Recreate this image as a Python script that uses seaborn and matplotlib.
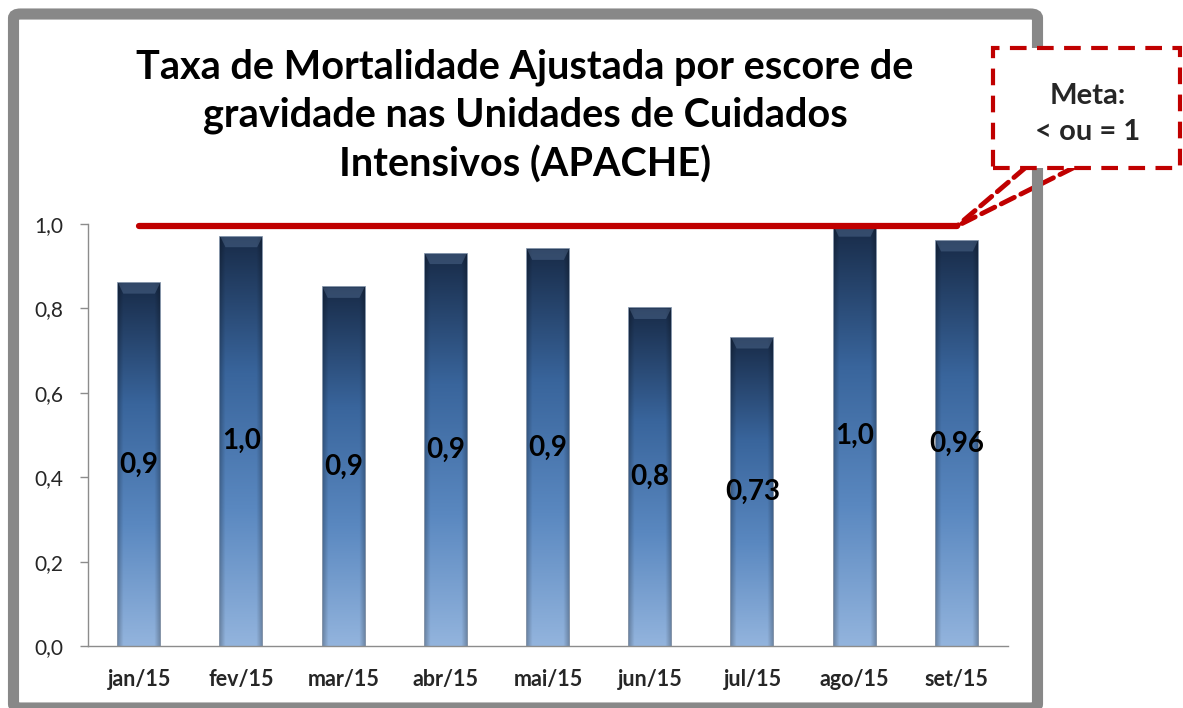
import numpy as np
import pandas as pd
import matplotlib
matplotlib.use("Agg")
import matplotlib.pyplot as plt
import seaborn as sns
from matplotlib.colors import LinearSegmentedColormap
from matplotlib.patches import FancyBboxPatch, Rectangle, Polygon
from matplotlib.ticker import FuncFormatter

# dados
meses = ["jan/15", "fev/15", "mar/15", "abr/15", "mai/15", "jun/15", "jul/15", "ago/15", "set/15"]
taxa = [0.86, 0.97, 0.85, 0.93, 0.94, 0.80, 0.73, 0.995, 0.96]
rotulos = ["0,9", "1,0", "0,9", "0,9", "0,9", "0,8", "0,73", "1,0", "0,96"]
meta = [0.995] * len(meses)
y_ticks = [0.0, 0.2, 0.4, 0.6, 0.8, 1.0]

titulo = "Taxa de Mortalidade Ajustada por escore de\ngravidade nas Unidades de Cuidados\nIntensivos (APACHE)"
texto_meta = "Meta:\n< ou = 1"

VERMELHO = "#c00000"
W, H = 1183, 708

sns.set_style("white")
plt.rcParams["font.family"] = ["Lato", "DejaVu Sans"]

fig = plt.figure(figsize=(W / 100, H / 100), dpi=100)
ax = fig.add_axes([88 / W, 1 - 646 / H, 920 / W, (646 - 224) / H])

df = pd.DataFrame({"mes": meses, "taxa": taxa})
sns.barplot(data=df, x="mes", y="taxa", ax=ax, width=0.41, color="#3a6497",
            edgecolor="#6f819a", linewidth=1.2, zorder=2)

# gradiente em cada barra (escuro em cima, claro embaixo, bordas laterais mais escuras)
cmap = LinearSegmentedColormap.from_list("azul", ["#93b4dd", "#5a88c0", "#39659c", "#182b48"])
vert = cmap(np.linspace(0, 1, 256))[:, :3]
xs = np.linspace(-1, 1, 40)
lado = 1 - 0.22 * np.clip((np.abs(xs) - 0.75) / 0.25, 0, 1)
img = vert[:, None, :] * lado[None, :, None]
for p in list(ax.patches):
    x0, w, h = p.get_x(), p.get_width(), p.get_height()
    im = ax.imshow(img, extent=[x0, x0 + w, 0, h], origin="lower", aspect="auto", zorder=2.1)
    im.set_clip_path(p)
    # chanfro no topo
    dy, dx = 0.025, 0.05
    ax.add_patch(Polygon([[x0, h], [x0 + w, h], [x0 + w - dx, h - dy], [x0 + dx, h - dy]],
                         closed=True, facecolor="#7391b8", alpha=0.3, edgecolor="none",
                         zorder=2.2))
ax.set_xlim(-0.5, len(meses) - 0.5)
ax.set_ylim(0, 1.0)

# rótulos no meio das barras
for i, (v, r) in enumerate(zip(taxa, rotulos)):
    ax.text(i, v / 2, r, ha="center", va="center", fontsize=20, fontweight="bold",
            color="black", zorder=4)

# linha da meta
ax.plot(np.arange(len(meses)), meta, color=VERMELHO, lw=4.5, solid_capstyle="round",
        zorder=3, clip_on=False)

ax.set_xlabel("")
ax.set_ylabel("")
ax.set_yticks(y_ticks)
ax.yaxis.set_major_formatter(FuncFormatter(lambda v, _: f"{v:.1f}".replace(".", ",")))
for s in ["top", "right"]:
    ax.spines[s].set_visible(False)
for s in ["left", "bottom"]:
    ax.spines[s].set_color("#8c8c8c")
    ax.spines[s].set_linewidth(1)
ax.tick_params(axis="y", left=True, length=6, width=1, color="#8c8c8c", pad=12,
               labelsize=15, labelcolor="#262626")
ax.tick_params(axis="x", bottom=False, pad=13, labelsize=15.5)
for t in ax.get_xticklabels():
    t.set_fontweight("bold")

# título
fig.text(525 / W, 1 - 116 / H, titulo, ha="center", va="center", fontsize=28.5,
         fontweight="bold", linespacing=1.36, color="black")

# moldura cinza
frame = FancyBboxPatch((13.5 / W, 1 - 708 / H), 1024 / W, 694 / H,
                       boxstyle="round,pad=0,rounding_size=0.006", transform=fig.transFigure,
                       fill=False, edgecolor="#888888", lw=8, zorder=0)
fig.patches.append(frame)

# caixa de texto da meta
box = Rectangle((993 / W, 1 - 168 / H), 187 / W, 120 / H, transform=fig.transFigure,
                facecolor="white", edgecolor=VERMELHO, lw=3, ls=(0, (4, 2.5)), zorder=5)
fig.patches.append(box)
fig.text(1088 / W, 1 - 114 / H, texto_meta, ha="center", va="center", fontsize=21,
         fontweight="bold", linespacing=1.45, zorder=6)
for xb in [1025, 1073]:
    ax.annotate("", xy=(len(meses) - 1, meta[-1]), xycoords="data",
                xytext=(xb / W, 1 - 168 / H), textcoords="figure fraction",
                arrowprops=dict(arrowstyle="-", color=VERMELHO, lw=3.5, ls=(0, (3, 1.5)),
                                shrinkA=0, shrinkB=0), zorder=5, annotation_clip=False)

fig.savefig("out.png", dpi=100)
